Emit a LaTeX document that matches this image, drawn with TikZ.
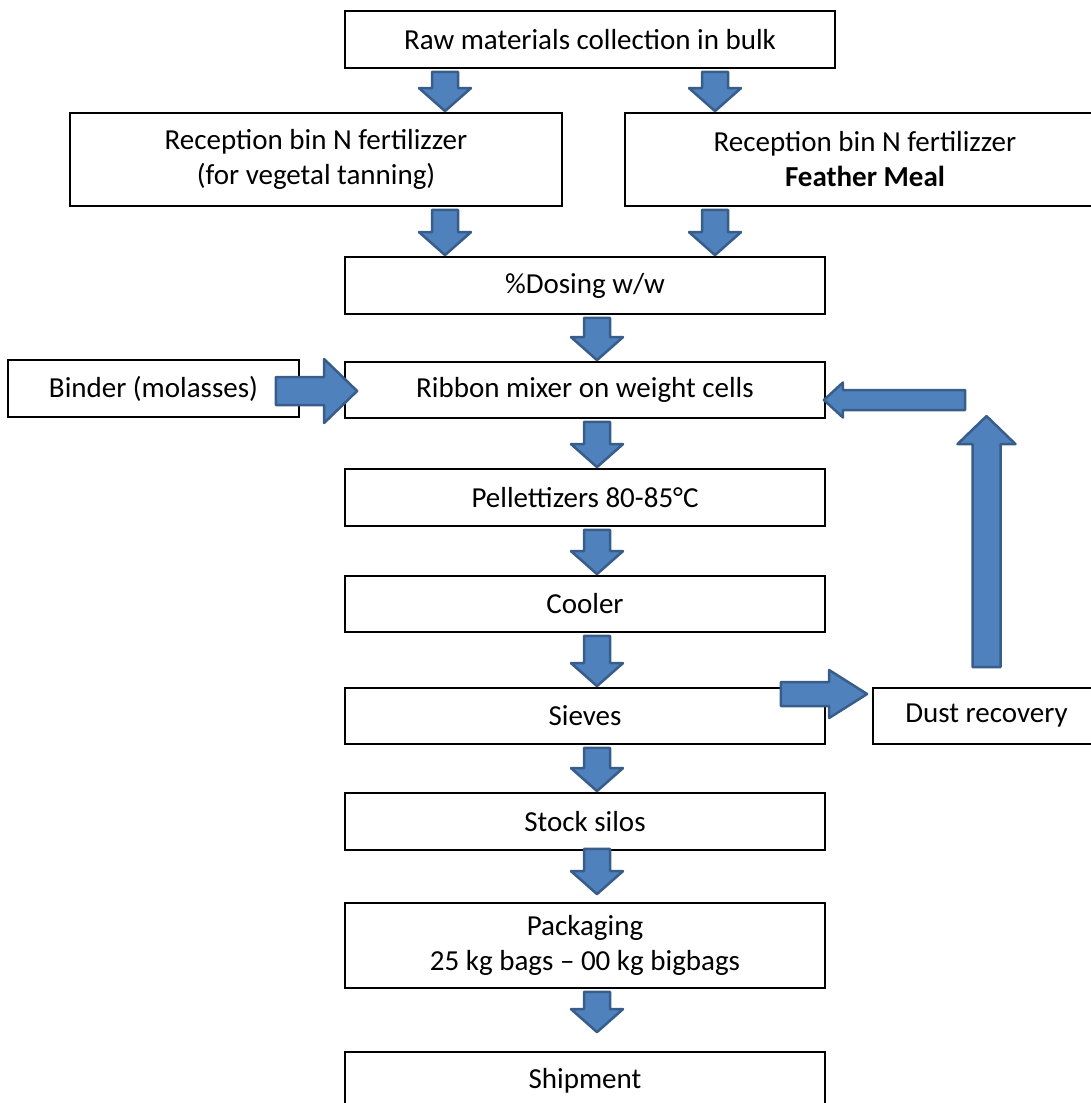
\documentclass[tikz,border=0pt]{standalone}
\usepackage{fontspec}
\setmainfont{Carlito}
\usetikzlibrary{calc}
\definecolor{arrowfill}{HTML}{4F81BD}
\definecolor{arrowedge}{HTML}{385D8A}

\begin{document}
\begin{tikzpicture}[x=1pt,y=-1pt,
    box/.style={draw, line width=1.8pt, inner sep=0pt, align=center,
      font=\fontsize{29}{35}\selectfont},
    arrshaft/.store in=\arrshaft, arrhead/.store in=\arrhead, arrlen/.store in=\arrlen,
    arrshaft=13pt, arrhead=26pt, arrlen=23pt,
    blk/.style={draw=arrowedge, fill=arrowfill, line width=2.5pt, line join=round,
      to path={let \p1=(\tikztostart), \p2=(\tikztotarget),
        \n1={veclen(\x2-\x1,\y2-\y1)}, \n2={(\x2-\x1)/\n1}, \n3={(\y2-\y1)/\n1} in
        ({\x1-\n3*\arrshaft},{\y1+\n2*\arrshaft})
        -- ({\x2-\n2*\arrlen-\n3*\arrshaft},{\y2-\n3*\arrlen+\n2*\arrshaft})
        -- ({\x2-\n2*\arrlen-\n3*\arrhead},{\y2-\n3*\arrlen+\n2*\arrhead})
        -- (\x2,\y2)
        -- ({\x2-\n2*\arrlen+\n3*\arrhead},{\y2-\n3*\arrlen-\n2*\arrhead})
        -- ({\x2-\n2*\arrlen+\n3*\arrshaft},{\y2-\n3*\arrlen-\n2*\arrshaft})
        -- ({\x1+\n3*\arrshaft},{\y1-\n2*\arrshaft}) -- cycle}}]
  \useasboundingbox (0,0) rectangle (1091,1103);

  % boxes
  \node[box, minimum width=490, minimum height=57] (raw) at (590,39.5) {Raw materials collection in bulk};
  \node[box, minimum width=492, minimum height=93] (recL) at (316,159.5) {Reception bin N fertilizzer\\(for vegetal tanning)};
  \node[box, minimum width=480, minimum height=93] (recR) at (865,159.5) {Reception bin N fertilizzer\\\textbf{Feather Meal}};
  \node[box, minimum width=480, minimum height=57] (dose) at (585,285.5) {\%Dosing w/w};
  \node[box, minimum width=291, minimum height=57] (binder) at (153.5,388.5) {Binder (molasses)};
  \node[box, minimum width=480, minimum height=56] (mixer) at (585,390) {Ribbon mixer on weight cells};
  \node[box, minimum width=480, minimum height=57] (pellet) at (585,497.5) {Pellettizers 80-85°C};
  \node[box, minimum width=480, minimum height=56] (cooler) at (585,604) {Cooler};
  \node[box, minimum width=480, minimum height=56] (sieves) at (585,716) {Sieves};
  \node[box, minimum width=227, minimum height=56] (dust) at (986.5,716) {Dust recovery};
  \node[box, minimum width=480, minimum height=57] (stock) at (585,821.5) {Stock silos};
  \node[box, minimum width=480, minimum height=85] (pack) at (585,945.5) {Packaging\\25 kg bags – 00 kg bigbags};
  \node[box, minimum width=480, minimum height=57] (ship) at (585,1080.5) {Shipment};

  % block arrows
  \draw[blk] ($(raw.south)+(-145,3)$) to ($(recL.north)+(129,-1)$);
  \draw[blk] ($(raw.south)+(125,3)$) to ($(recR.north)+(-150,-1)$);
  \draw[blk] ($(recL.south)+(129,3)$) to ($(dose.north)+(-140,-1)$);
  \draw[blk] ($(recR.south)+(-150,3)$) to ($(dose.north)+(130,-1)$);
  \draw[blk] ($(dose.south)+(12,3)$) to ($(mixer.north)+(12,-1)$);
  \draw[blk, arrshaft=14pt, arrhead=32pt, arrlen=33pt] ($(binder.east)+(-24,2.5)$) to ($(mixer.west)+(13,1)$);
  \draw[blk] ($(mixer.south)+(12,3)$) to ($(pellet.north)+(12,-1)$);
  \draw[blk] ($(pellet.south)+(12,3)$) to ($(cooler.north)+(12,-1)$);
  \draw[blk] ($(cooler.south)+(12,3)$) to ($(sieves.north)+(12,-1)$);
  \draw[blk] ($(sieves.south)+(12,3)$) to ($(stock.north)+(12,-1)$);
  \draw[blk] ($(stock.south)+(12,-2)$) to ($(pack.north)+(12,-8)$);
  \draw[blk] ($(pack.south)+(12,3)$) to ($(ship.north)+(12,-19)$);
  \draw[blk, arrshaft=12pt, arrhead=24pt, arrlen=38pt] ($(sieves.east)+(-45,-22)$) to ($(dust.west)+(-5,-22)$);

  % dust return
  \coordinate (turn) at (965,400);
  \draw[blk, arrshaft=14pt, arrhead=29pt, arrlen=28pt] ($(dust.north)+(0,-20)$) to ($(dust.north)+(0,-271)$);
  \draw[blk, arrshaft=10pt, arrhead=17.5pt, arrlen=19pt] (turn) to ($(mixer.east)+(-2,10)$);
\end{tikzpicture}
\end{document}
